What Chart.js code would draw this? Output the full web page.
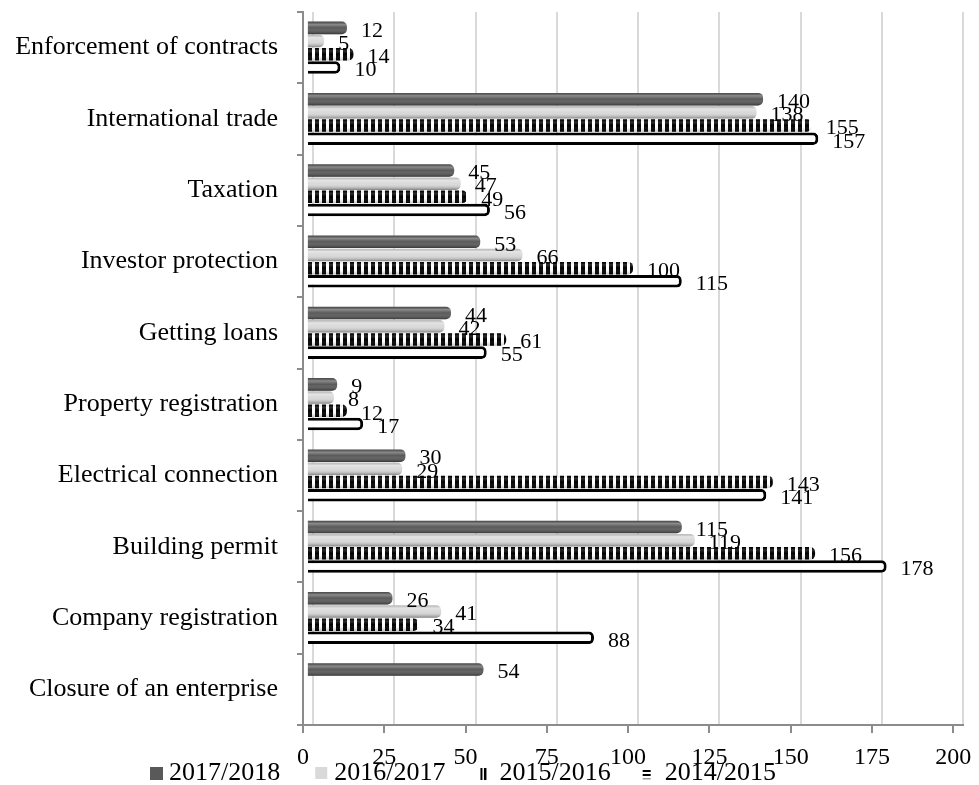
<!DOCTYPE html>
<html>
<head>
<meta charset="utf-8">
<script src="https://cdn.jsdelivr.net/npm/chart.js@4.4.1/dist/chart.umd.min.js"></script>
<style>
html, body { margin: 0; padding: 0; background: #fff; }
</style>
</head>
<body>
<canvas id="chart" width="979" height="785"></canvas>
<script>
const categories = [
  'Enforcement of contracts',
  'International trade',
  'Taxation',
  'Investor protection',
  'Getting loans',
  'Property registration',
  'Electrical connection',
  'Building permit',
  'Company registration',
  'Closure of an enterprise'
];
const seriesNames = ['2017/2018', '2016/2017', '2015/2016', '2014/2015'];
const values2017 = [12, 140, 45, 53, 44, 9, 30, 115, 26, 54];
const values2016 = [5, 138, 47, 66, 42, 8, 29, 119, 41, null];
const values2015 = [14, 155, 49, 100, 61, 12, 143, 156, 34, null];
const values2014 = [10, 157, 56, 115, 55, 17, 141, 178, 88, null];
const xTicks = [0, 25, 50, 75, 100, 125, 150, 175, 200];

const serif = '"Liberation Serif", "Times New Roman", serif';

// vertical black/white stripes for 2015/2016
function stripes() {
  const c = document.createElement('canvas');
  c.width = 7; c.height = 4;
  const g = c.getContext('2d');
  g.fillStyle = '#fff';
  g.fillRect(0, 0, 7, 4);
  g.fillStyle = '#000';
  g.fillRect(0, 0, 4, 4);
  return g.createPattern(c, 'repeat');
}

// cylinder shading + value labels
const barLook = {
  id: 'barLook',
  afterDatasetsDraw(chart) {
    const ctx = chart.ctx;
    chart.data.datasets.forEach((ds, i) => {
      const meta = chart.getDatasetMeta(i);
      meta.data.forEach((bar, j) => {
        const v = ds.data[j];
        if (v === null || v === undefined) return;
        const p = bar.getProps(['x', 'y', 'base', 'height'], true);
        if (!isFinite(p.x)) return;
        const top = p.y - p.height / 2;
        if (i !== 3) {
          const k = i === 2 ? 0.6 : 1;
          const g = ctx.createLinearGradient(0, top, 0, top + p.height);
          g.addColorStop(0, 'rgba(0,0,0,' + 0.12 * k + ')');
          g.addColorStop(0.22, 'rgba(255,255,255,' + 0.3 * k + ')');
          g.addColorStop(0.5, 'rgba(255,255,255,0)');
          g.addColorStop(1, 'rgba(0,0,0,' + 0.4 * k + ')');
          ctx.save();
          ctx.beginPath();
          ctx.roundRect(p.base, top, p.x - p.base, p.height, [0, 5, 5, 0]);
          ctx.fillStyle = g;
          ctx.fill();
          ctx.restore();
        }
      });
    });
    ctx.save();
    ctx.font = '22px ' + serif;
    ctx.fillStyle = '#000';
    ctx.textAlign = 'left';
    ctx.textBaseline = 'middle';
    chart.data.datasets.forEach((ds, i) => {
      chart.getDatasetMeta(i).data.forEach((bar, j) => {
        const v = ds.data[j];
        if (v === null || v === undefined) return;
        ctx.fillText(String(v), bar.x + 14, bar.y + 3);
      });
    });
    ctx.restore();
  }
};

function drawMarker(ctx, i, x, y) {
  if (i === 0) {
    ctx.fillStyle = '#595959';
    ctx.fillRect(x, y - 6, 13, 13);
  } else if (i === 1) {
    ctx.fillStyle = '#d9d9d9';
    ctx.fillRect(x, y - 6, 12, 12);
  } else if (i === 2) {
    ctx.fillStyle = '#000';
    ctx.fillRect(x, y - 5, 2, 12);
    ctx.fillRect(x + 3.5, y - 5, 2.5, 12);
  } else {
    ctx.fillStyle = '#000';
    ctx.fillRect(x - 3, y - 3, 8, 2);
    ctx.fillRect(x - 3, y + 1, 8, 2);
    ctx.fillStyle = '#999';
    ctx.fillRect(x - 3, y + 5, 8, 1.5);
  }
}

const legendBox = {
  id: 'legendBox',
  afterDraw(chart) {
    const ctx = chart.ctx;
    ctx.save();
    ctx.font = '26px ' + serif;
    ctx.textBaseline = 'middle';
    ctx.textAlign = 'left';
    let x = 150;
    const y = 773;
    seriesNames.forEach((name, i) => {
      drawMarker(ctx, i, x, y);
      ctx.fillStyle = '#000';
      ctx.fillText(name, x + 19, y);
      x += 19 + ctx.measureText(name).width + 35;
    });
    ctx.restore();
  }
};

const setTicks = s => { s.ticks = xTicks.map(v => ({ value: v })); };

new Chart(document.getElementById('chart'), {
  type: 'bar',
  data: {
    labels: categories,
    datasets: [
      { label: seriesNames[0], data: values2017, xAxisID: 'xb', backgroundColor: '#595959' },
      { label: seriesNames[1], data: values2016, xAxisID: 'xb', backgroundColor: '#d9d9d9' },
      { label: seriesNames[2], data: values2015, xAxisID: 'xb', backgroundColor: stripes() },
      { label: seriesNames[3], data: values2014, xAxisID: 'xb', backgroundColor: '#ffffff',
        borderColor: '#000', borderWidth: { top: 3, bottom: 3, right: 3, left: 0 } }
    ]
  },
  options: {
    indexAxis: 'y',
    responsive: false,
    animation: false,
    layout: { padding: { top: 12, right: 16, bottom: 0, left: 0 } },
    datasets: {
      bar: { categoryPercentage: 0.74, barPercentage: 0.95, borderRadius: 5, borderSkipped: 'start' }
    },
    plugins: { legend: { display: false }, tooltip: { enabled: false } },
    scales: {
      x: {
        type: 'linear', position: 'bottom', min: 0, max: 203,
        afterBuildTicks: setTicks,
        afterFit: s => { s.height = 60; s.paddingLeft = 0; s.paddingRight = 0; },
        grid: { drawOnChartArea: false, tickLength: 8, color: '#8c8c8c', lineWidth: 2 },
        border: { display: true, color: '#8c8c8c', width: 2 },
        ticks: { color: '#000', padding: 10, maxRotation: 0, autoSkip: false,
          font: { family: serif, size: 24 } }
      },
      x2: {
        type: 'linear', axis: 'x', position: 'top', min: -3.1, max: 200,
        afterBuildTicks: setTicks,
        afterFit: s => { s.height = 0; s.paddingLeft = 0; s.paddingRight = 0; },
        grid: { color: '#d9d9d9', lineWidth: 2, drawTicks: false },
        border: { display: false },
        ticks: { display: false }
      },
      xb: { type: 'linear', axis: 'x', display: false, min: -1.5, max: 201.5 },
      y: {
        type: 'category',
        afterFit: s => { s.width = 303; s.paddingTop = 0; s.paddingBottom = 0; },
        grid: { drawOnChartArea: false, offset: true, tickLength: 6, color: '#8c8c8c', lineWidth: 2 },
        border: { display: true, color: '#8c8c8c', width: 2 },
        ticks: { color: '#000', padding: 19, autoSkip: false,
          font: { family: serif, size: 26 } }
      }
    }
  },
  plugins: [barLook, legendBox]
});
</script>
</body>
</html>
